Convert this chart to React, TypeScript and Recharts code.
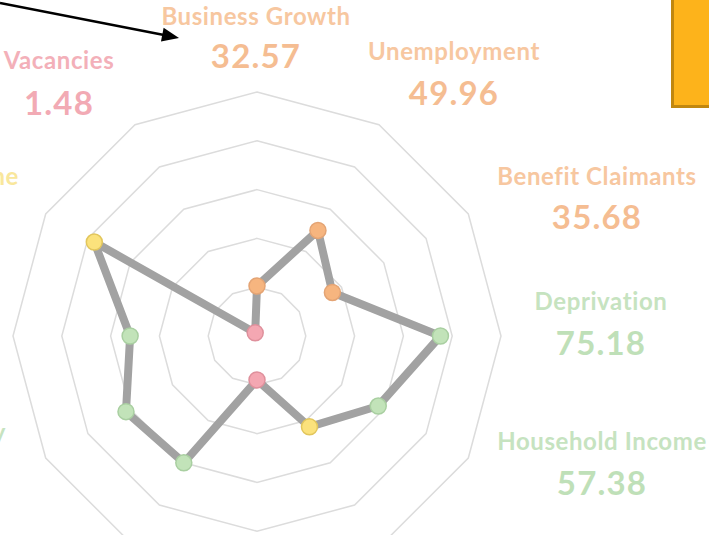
import React from 'react';
import { RadarChart, Radar, PolarGrid, PolarAngleAxis, PolarRadiusAxis } from 'recharts';

// ---- data ----
const categories = [
  'Business Growth', 'Unemployment', 'Benefit Claimants', 'Deprivation', 'Household Income',
  'Housing Affordability', 'Crime', 'Skills', 'Life Expectancy', 'Education', 'Skills Pipeline', 'Vacancies',
];
const plotted = [20.5, 49.96, 35.68, 75.18, 57.38, 43, 18, 60, 62, 52, 77, 1.48];
const shownValues = ['32.57', '49.96', '35.68', '75.18', '57.38', '', '', '', '', '', '', '1.48'];
const groups = ['orange', 'orange', 'orange', 'green', 'green', 'yellow', 'pink', 'green', 'green', 'green', 'yellow', 'pink'];

// ---- styles ----
const dotFill: Record<string, string> = { orange: '#f6b57f', green: '#c2e3b9', yellow: '#fbe27c', pink: '#f4a7b2' };
const dotStroke: Record<string, string> = { orange: '#e4a474', green: '#a9cfa1', yellow: '#e2c65c', pink: '#df909c' };
const labelFill: Record<string, string> = { orange: '#f7c7a0', green: '#c6e3c0', yellow: '#f9e79c', pink: '#f3b0b9' };
const valueFill: Record<string, string> = { orange: '#f5bd92', green: '#bfe0b8', yellow: '#f7e08a', pink: '#f2aab4' };

// label layout: [index, centerX/anchorX, labelBaseline, valueBaseline, anchor]
const labelLayout: [number, number, number, number, string][] = [
  [0, 256, 25, 68, 'middle'],
  [1, 454, 60, 105, 'middle'],
  [2, 597, 185, 229, 'middle'],
  [3, 601, 310, 355, 'middle'],
  [4, 602, 450, 495, 'middle'],
  [11, 59, 69, 115, 'middle'],
  [10, 19, 185, 0, 'end'],
  [8, 6, 441, 0, 'end'],
];

const chartData = categories.map((c, i) => ({ category: c, value: plotted[i] }));

const renderDot = (props: any) => {
  const { cx, cy, index } = props;
  const g = groups[index];
  return (
    <circle key={`dot-${index}`} cx={cx} cy={cy} r={8} fill={dotFill[g]} stroke={dotStroke[g]} strokeWidth={1.5} />
  );
};

const FONT = 'Lato, "Open Sans", sans-serif';

export default function App() {
  return (
    <div style={{ position: 'fixed', left: 0, top: 0, width: 709, height: 535, overflow: 'hidden', background: '#fff' }}>
      <RadarChart
        width={709}
        height={535}
        data={chartData}
        cx={257}
        cy={336}
        outerRadius={244}
        startAngle={90}
        endAngle={-270}
        margin={{ top: 0, right: 0, bottom: 0, left: 0 }}
      >
        <PolarGrid gridType="polygon" radialLines={false} stroke="#dcdcdc" strokeWidth={1.5} />
        <PolarAngleAxis dataKey="category" tick={false} axisLine={false} tickLine={false} />
        <PolarRadiusAxis domain={[0, 100]} tickCount={6} tick={false} axisLine={false} tickLine={false} />
        <Radar
          dataKey="value"
          stroke="#a2a2a2"
          strokeWidth={8}
          strokeLinejoin="round"
          fill="none"
          fillOpacity={0}
          dot={renderDot}
          isAnimationActive={false}
        />
      </RadarChart>
      <svg width={709} height={535} style={{ position: 'absolute', left: 0, top: 0, pointerEvents: 'none' }}>
        {labelLayout.map(([i, x, ly, vy, anchor]) => (
          <g key={`lbl-${i}`}>
            <text x={x} y={ly} textAnchor={anchor as any} fontFamily={FONT} fontWeight={700} fontSize={24} letterSpacing={0.6} fill={labelFill[groups[i]]}>
              {categories[i]}
            </text>
            {shownValues[i] && vy > 0 ? (
              <text x={x} y={vy} textAnchor={anchor as any} fontFamily={FONT} fontWeight={700} fontSize={33} letterSpacing={1.2} fill={valueFill[groups[i]]}>
                {shownValues[i]}
              </text>
            ) : null}
          </g>
        ))}
        <line x1={0} y1={3} x2={164} y2={35} stroke="#000" strokeWidth={2.5} />
        <polygon points="179,38 163.6,27.8 161,41.6" fill="#000" />
        <rect x={672.5} y={-5} width={50} height={111.5} fill="#fdb31b" stroke="#c1870f" strokeWidth={3} />
      </svg>
    </div>
  );
}
